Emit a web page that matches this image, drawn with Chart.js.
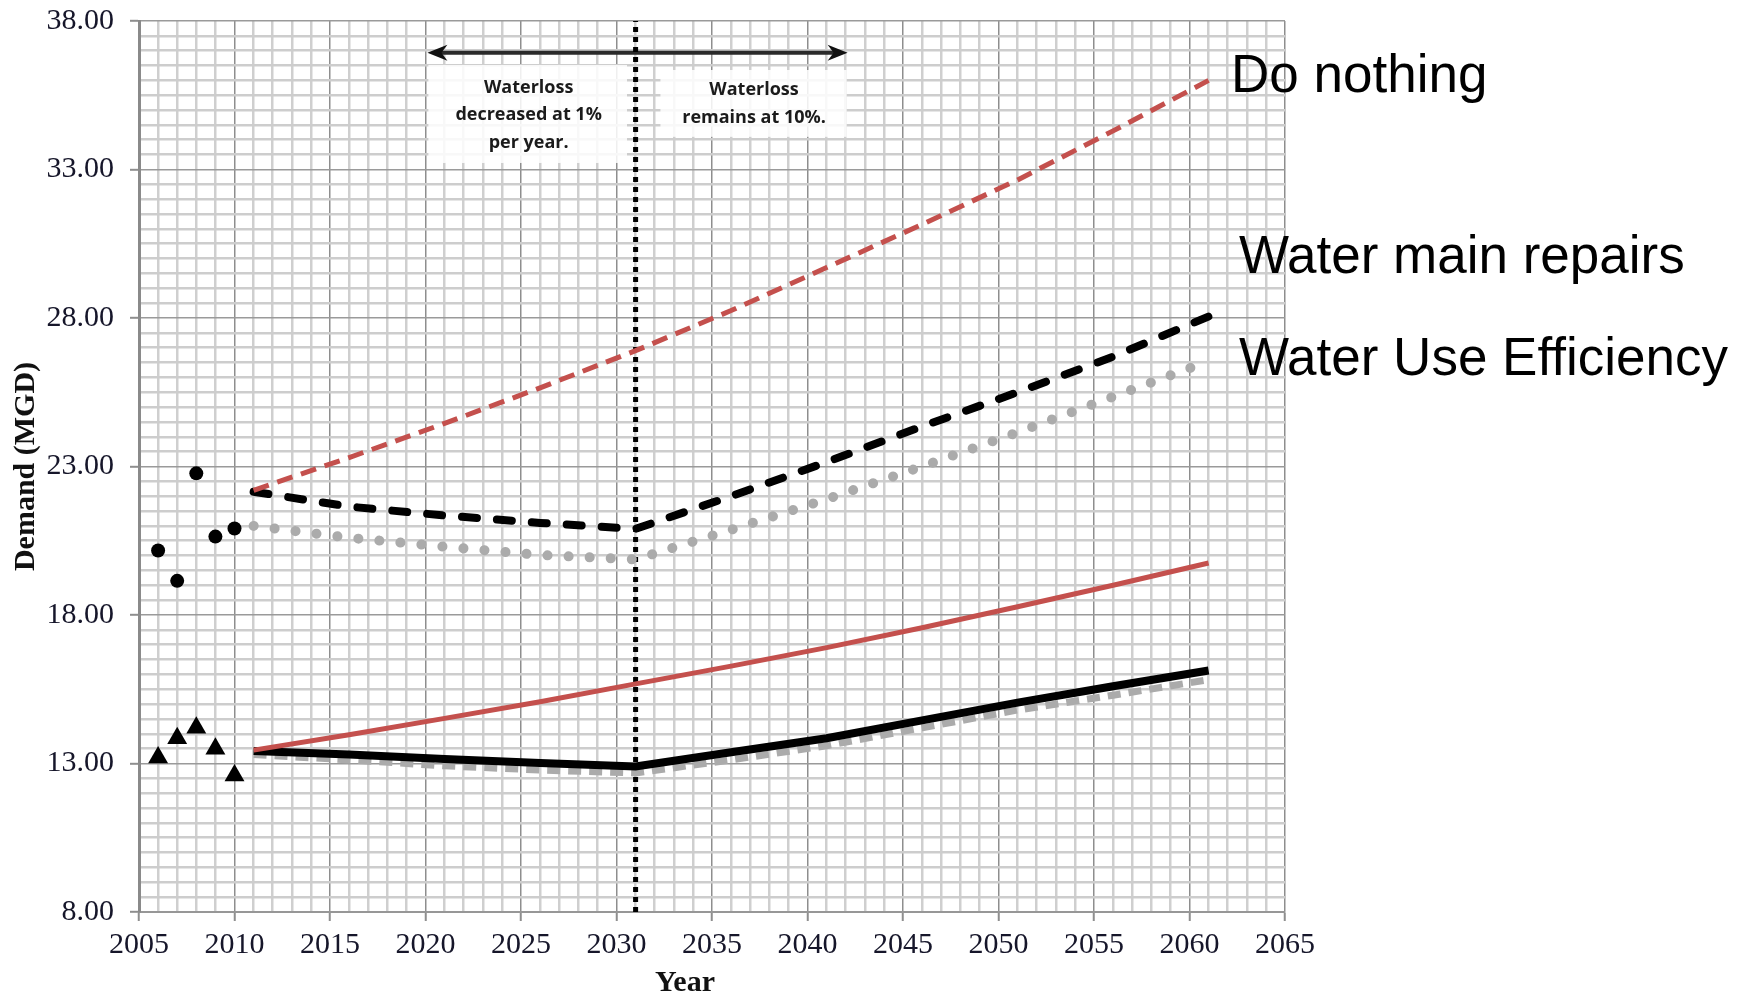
<!DOCTYPE html>
<html>
<head>
<meta charset="utf-8">
<script src="https://cdn.jsdelivr.net/npm/chart.js@4.4.1/dist/chart.umd.min.js"></script>
<style>
  html, body { margin: 0; padding: 0; background: #ffffff; }
  #wrap { width: 1744px; height: 996px; position: relative; }
</style>
</head>
<body>
<div id="wrap"><canvas id="demand" width="1744" height="996"></canvas></div>
<script>
// ---- Data (MGD) ----
const histYears = [2006, 2007, 2008, 2009, 2010];
const histUpper = [20.17, 19.15, 22.77, 20.64, 20.91];   // recorded, circles
const histLower = [13.2, 13.85, 14.2, 13.5, 12.6];       // recorded, triangles

const projYears = [2011, 2016, 2021, 2026, 2031, 2036, 2041, 2046, 2051, 2056, 2061];
const doNothingUpper  = [22.2, 23.3, 24.45, 25.65, 26.9, 28.25, 29.7, 31.15, 32.65, 34.3, 36.0];
const repairsUpper    = [22.15, 21.65, 21.35, 21.1, 20.9, 22.0, 23.15, 24.35, 25.5, 26.7, 28.05];
const efficiencyUpper = [21.0, 20.6, 20.3, 20.02, 19.87, 20.87, 21.9, 23.0, 24.15, 25.35, 26.55];
const doNothingLower  = [13.45, 13.97, 14.52, 15.08, 15.68, 16.28, 16.9, 17.57, 18.28, 19.0, 19.75];
const repairsLower    = [13.42, 13.3, 13.15, 13.02, 12.9, 13.38, 13.85, 14.45, 15.05, 15.6, 16.13];
const efficiencyLower = [13.3, 13.12, 12.92, 12.78, 12.68, 13.12, 13.6, 14.2, 14.8, 15.3, 15.82];

const policyChangeYear = 2031;

const xTickLabels = ['2005', '2010', '2015', '2020', '2025', '2030', '2035', '2040', '2045', '2050', '2055', '2060', '2065'];
const yTickLabels = ['8.00', '13.00', '18.00', '23.00', '28.00', '33.00', '38.00'];
const scenarioNames = ['Do nothing', 'Water main repairs', 'Water Use Efficiency'];
const phaseNoteBefore = ['Waterloss', 'decreased at 1%', 'per year.'];
const phaseNoteAfter = ['Waterloss', 'remains at 10%.'];

// ---- Helpers ----
const xMin = parseFloat(xTickLabels[0]);
const xMax = parseFloat(xTickLabels[xTickLabels.length - 1]);
const yMin = parseFloat(yTickLabels[0]);
const yMax = parseFloat(yTickLabels[yTickLabels.length - 1]);
const pts = (xs, ys) => xs.map((x, i) => ({ x: x, y: ys[i] }));
const near = (a, b) => Math.abs(a - b) < 1e-6;
const xLabelFor = v => xTickLabels.find(l => near(parseFloat(l), v)) || '';
const yLabelFor = v => yTickLabels.find(l => near(parseFloat(l), v)) || '';

const RED = '#c4504d';
const GREY = '#ababab';

// Annotation layout in axis units
const notes = {
  arrow: { from: 2020.1, to: 2042.1, y: 36.93 },
  before: { x0: 2020.15, x1: 2030.55, y0: 36.52, y1: 33.22, cx: 2025.4, lines: [35.74, 34.83, 33.89] },
  after:  { x0: 2032.3,  x1: 2042.05, y0: 36.35, y1: 34.1,  cx: 2037.2, lines: [35.68, 34.73] }
};

const overlay = {
  id: 'overlay',
  beforeDatasetsDraw(chart) {
    const { ctx, scales: { x, y } } = chart;
    ctx.save();
    // note boxes
    ctx.fillStyle = 'rgba(255,255,255,0.86)';
    [notes.before, notes.after].forEach(b => {
      const l = x.getPixelForValue(b.x0), r = x.getPixelForValue(b.x1);
      const t = y.getPixelForValue(b.y0), btm = y.getPixelForValue(b.y1);
      ctx.fillRect(l, t, r - l, btm - t);
    });
    ctx.fillStyle = '#1b1b1b';
    ctx.font = 'bold 18px "Open Sans", "DejaVu Sans", sans-serif';
    ctx.textAlign = 'center';
    ctx.textBaseline = 'middle';
    phaseNoteBefore.forEach((s, i) => ctx.fillText(s, x.getPixelForValue(notes.before.cx), y.getPixelForValue(notes.before.lines[i])));
    phaseNoteAfter.forEach((s, i) => ctx.fillText(s, x.getPixelForValue(notes.after.cx), y.getPixelForValue(notes.after.lines[i])));

    // double-headed arrow
    const ax0 = x.getPixelForValue(notes.arrow.from);
    const ax1 = x.getPixelForValue(notes.arrow.to);
    const ay = y.getPixelForValue(notes.arrow.y);
    ctx.strokeStyle = '#2a2a2a';
    ctx.lineWidth = 4;
    ctx.beginPath();
    ctx.moveTo(ax0 + 12, ay);
    ctx.lineTo(ax1 - 12, ay);
    ctx.stroke();
    ctx.fillStyle = '#111';
    const head = (tip, dir) => {
      ctx.beginPath();
      ctx.moveTo(tip, ay);
      ctx.lineTo(tip - dir * 20, ay - 8);
      ctx.lineTo(tip - dir * 14, ay);
      ctx.lineTo(tip - dir * 20, ay + 8);
      ctx.closePath();
      ctx.fill();
    };
    head(ax0, -1);
    head(ax1, 1);
    ctx.restore();
  },
  afterDraw(chart) {
    const { ctx, chartArea } = chart;
    ctx.save();
    ctx.fillStyle = '#000';
    ctx.textAlign = 'left';
    ctx.textBaseline = 'alphabetic';
    ctx.font = '53px "Liberation Sans", Arial, sans-serif';
    ctx.fillText(scenarioNames[0], 1231, 92);
    ctx.fillText(scenarioNames[1], 1239, 273);
    ctx.fillText(scenarioNames[2], 1239, 375);
    // x-axis title
    ctx.font = 'bold 30px "Liberation Serif", "Times New Roman", serif';
    ctx.textAlign = 'center';
    ctx.fillStyle = '#111';
    ctx.fillText('Year', (chartArea.left + chartArea.right) / 2 - 27, 991);
    ctx.restore();
  }
};

const line = (data, color, width, dash, cap) => ({
  data: data,
  borderColor: color,
  backgroundColor: color,
  borderWidth: width,
  borderDash: dash || [],
  borderCapStyle: cap || 'butt',
  pointRadius: 0,
  fill: false,
  tension: 0
});

// first dataset is drawn on top
const datasets = [
  { data: pts(histYears, histUpper), showLine: false, pointStyle: 'circle', pointRadius: 7,
    pointBackgroundColor: '#000', pointBorderColor: '#000', pointBorderWidth: 0 },
  { data: pts(histYears, histLower), showLine: false, pointStyle: 'triangle', pointRadius: 11.5,
    pointBackgroundColor: '#000', pointBorderColor: '#000', pointBorderWidth: 0 },
  line(pts(projYears, doNothingUpper), RED, 5, [16, 9]),
  line(pts(projYears, repairsUpper), '#000', 8, [15, 20], 'round'),
  line(pts(projYears, efficiencyUpper), GREY, 10, [0.1, 21], 'round'),
  line(pts(projYears, doNothingLower), RED, 5),
  line(pts(projYears, repairsLower), '#000', 8),
  line(pts(projYears, efficiencyLower), GREY, 7, [13, 8]),
  line([{ x: policyChangeYear, y: yMin }, { x: policyChangeYear, y: yMax }], '#000', 5, [5, 5])
];

new Chart(document.getElementById('demand'), {
  type: 'line',
  data: { datasets: datasets },
  plugins: [overlay],
  options: {
    responsive: false,
    animation: false,
    devicePixelRatio: 1,
    layout: { padding: { top: 21, right: 459, left: 0, bottom: 0 } },
    plugins: { legend: { display: false }, tooltip: { enabled: false } },
    scales: {
      x: {
        type: 'linear',
        min: xMin, max: xMax,
        afterFit: s => { s.height = 84; s.paddingLeft = 0; s.paddingRight = 0; },
        border: { color: '#979797', width: 2 },
        grid: {
          color: c => (c.tick && c.tick.value % 5 === 0) ? '#8e8e8e' : '#cfcfcf',
          lineWidth: c => (c.tick && c.tick.value % 5 === 0) ? 1.5 : 2.5,
          tickLength: 9,
          tickWidth: 2,
          tickColor: c => (c.tick && c.tick.value % 5 === 0) ? '#8e8e8e' : 'rgba(0,0,0,0)'
        },
        ticks: {
          stepSize: 1,
          maxTicksLimit: 200,
          autoSkip: false,
          maxRotation: 0,
          padding: 6,
          color: '#16162a',
          font: { family: '"Liberation Serif", "Times New Roman", serif', size: 30 },
          callback: v => xLabelFor(v)
        }
      },
      y: {
        type: 'linear',
        min: yMin, max: yMax,
        afterFit: s => { s.width = 139; s.paddingTop = 0; s.paddingBottom = 0; },
        border: { color: '#8a8a8a', width: 3 },
        grid: {
          color: c => (c.tick && yLabelFor(c.tick.value)) ? '#9a9a9a' : '#cdcdcd',
          lineWidth: c => (c.tick && yLabelFor(c.tick.value)) ? 1.6 : 2.6,
          tickLength: 9,
          tickWidth: 2,
          tickColor: c => (c.tick && yLabelFor(c.tick.value)) ? '#8e8e8e' : 'rgba(0,0,0,0)'
        },
        ticks: {
          stepSize: 0.5,
          maxTicksLimit: 200,
          autoSkip: false,
          padding: 16,
          color: '#16162a',
          font: { family: '"Liberation Serif", "Times New Roman", serif', size: 30 },
          callback: v => yLabelFor(v)
        },
        title: {
          display: true,
          text: 'Demand (MGD)',
          color: '#111',
          padding: { top: 8, bottom: 0 },
          font: { family: '"Liberation Serif", "Times New Roman", serif', size: 30, weight: 'bold' }
        }
      }
    }
  }
});
</script>
</body>
</html>
